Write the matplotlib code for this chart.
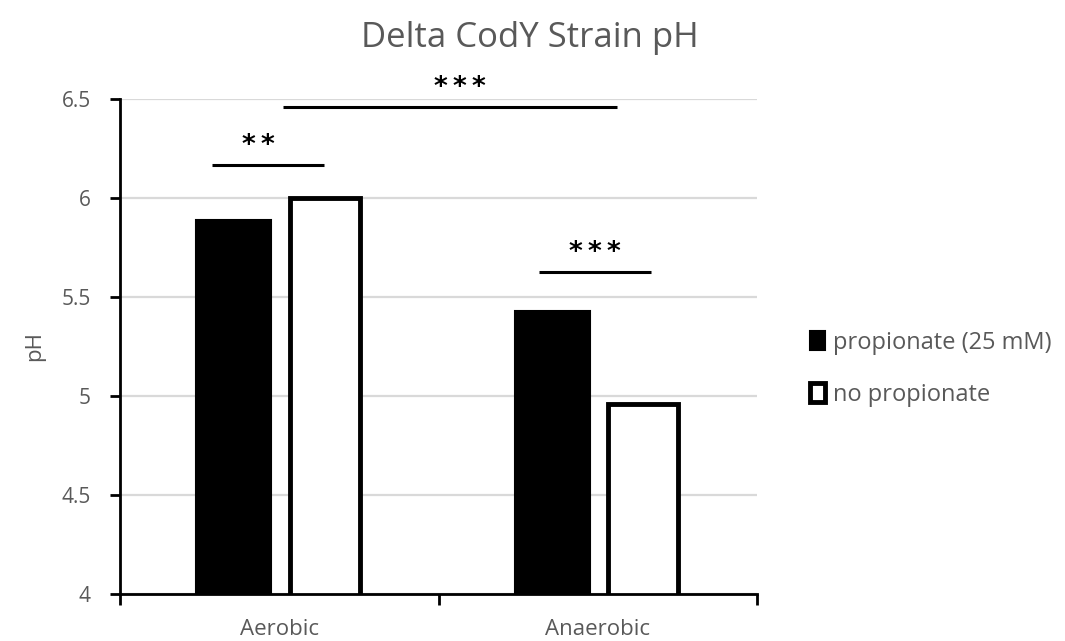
import matplotlib.pyplot as plt
import numpy as np

plt.rcParams['font.family'] = ['Open Sans', 'DejaVu Sans']

categories = ['Aerobic', 'Anaerobic']
with_propionate = [5.89, 5.43]
no_propionate = [6.0, 4.96]
series_labels = ['propionate (25 mM)', 'no propionate']
y_ticks = [4, 4.5, 5, 5.5, 6, 6.5]
y_tick_labels = ['4', '4.5', '5', '5.5', '6', '6.5']

# significance brackets: (x start, x end, y, label, label x)
sig_marks = [
    (-0.211, 0.140, 6.167, '*\u2009*', -0.067),
    (0.012, 1.060, 6.46, '*\u2009*\u2009*', 0.567),
    (0.816, 1.167, 5.626, '*\u2009*\u2009*', 0.991),
]

gray = '#595959'

fig = plt.figure(figsize=(10.65, 6.41), dpi=100)
ax = fig.add_axes([0.1127, 0.0733, 0.5981, 0.7723])

x = np.arange(len(categories))
off = 0.143
w = 0.235
ax.bar(x - off, with_propionate, w, color='black', edgecolor='black',
       linewidth=1.5, label=series_labels[0], zorder=3)
ax.bar(x + off, no_propionate, w - 0.015, color='white', edgecolor='black',
       linewidth=3.5, label=series_labels[1], zorder=3)

ax.set_ylim(4, 6.5)
ax.set_xlim(-0.5, 1.5)
ax.set_yticks(y_ticks)
ax.set_yticklabels(y_tick_labels)
ax.yaxis.grid(True, color='#d9d9d9', linewidth=1.6, zorder=0)
ax.set_axisbelow(True)

# category labels centered, ticks on boundaries
ax.set_xticks([-0.5, 0.5, 1.5])
ax.set_xticklabels([])
ax.set_xticks(x, minor=True)
ax.set_xticklabels(categories, minor=True)
ax.tick_params(axis='x', which='minor', length=0, pad=18, labelsize=16,
               labelcolor=gray)
ax.tick_params(axis='x', which='major', length=8, width=2, direction='out')
ax.tick_params(axis='y', length=7, width=2, direction='out', pad=14,
               labelsize=15, labelcolor=gray)

for s in ['top', 'right']:
    ax.spines[s].set_visible(False)
for s in ['left', 'bottom']:
    ax.spines[s].set_linewidth(2)
    ax.spines[s].set_zorder(4)

for x0, x1, yy, lab, lx in sig_marks:
    ax.plot([x0, x1], [yy, yy], color='black', linewidth=2.2, clip_on=False,
            zorder=5, solid_capstyle='butt')
    ax.text(lx, yy + 0.03, lab, ha='center', va='bottom',
            fontsize=19, fontweight='bold', color='black',
            family='DejaVu Sans')

ax.set_ylabel('pH', fontsize=16, color=gray, labelpad=12)
fig.text(0.498, 0.94, 'Delta CodY Strain pH', ha='center', va='center',
         fontsize=25, color=gray)

leg = ax.legend(loc='center left', bbox_to_anchor=(1.05, 0.455), frameon=False,
                fontsize=17, labelcolor=gray, handlelength=0.65,
                handleheight=0.85, handletextpad=0.3, labelspacing=1.2)

fig.savefig('out.png', dpi=100)
